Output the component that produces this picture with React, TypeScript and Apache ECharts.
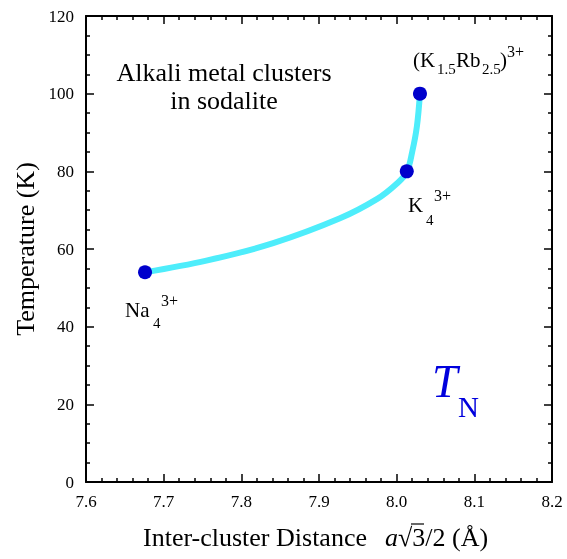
import React, { useEffect, useRef } from "react";
import * as echarts from "echarts";

// Fitted T_N curve (inter-cluster distance in Å, temperature in K)
const curveX = [7.676, 7.755, 7.841, 7.927, 7.975, 8.000, 8.013, 8.020, 8.026, 8.030];
const curveY = [54.0, 57.0, 61.5, 67.9, 72.9, 76.8, 79.8, 85.0, 91.5, 100.0];

// Measured clusters
const clusterNames = ["Na4", "K4", "K1.5Rb2.5"];
const clusterX = [7.676, 8.013, 8.03];
const clusterY = [54, 80, 100];

const xTicks = { min: 7.6, max: 8.2, interval: 0.1 };
const yTicks = { min: 0, max: 120, interval: 20 };

const F = "Liberation Serif";

function txt(text: string, x: number, y: number, size: number, opts: any = {}) {
  const style: any = { text, fill: opts.fill || "#000", fontSize: size, fontFamily: F, textVerticalAlign: "middle" };
  if (opts.italic) style.fontStyle = "italic";
  if (opts.align) style.textAlign = opts.align;
  const el: any = { type: "text", x, y, style };
  if (opts.rotation) el.rotation = opts.rotation;
  return el;
}

export default function App() {
  const ref = useRef<HTMLDivElement>(null);
  useEffect(() => {
    if (!ref.current) return;
    const chart = echarts.init(ref.current, null, { renderer: "svg" });
    const axisLine = { show: true, onZero: false, lineStyle: { color: "#000", width: 2 } };
    const axisTick = { show: true, inside: true, length: 8, lineStyle: { color: "#000", width: 1.5 } };
    const minorLine = { length: 4, lineStyle: { color: "#000", width: 1.5 } };
    const lineData = curveX.map((x, i) => [x, curveY[i]]);
    const pointData = clusterX.map((x, i) => ({ name: clusterNames[i], value: [x, clusterY[i]] }));
    chart.setOption({
      animation: false,
      grid: { left: 86, top: 16, right: 15, bottom: 77 },
      xAxis: [
        {
          type: "value",
          ...xTicks,
          position: "bottom",
          axisLine,
          axisTick,
          splitLine: { show: false },
          minorTick: { show: true, splitNumber: 5, ...minorLine },
          axisLabel: {
            color: "#000",
            fontSize: 17,
            fontFamily: F,
            margin: 11,
            formatter: (v: number) => v.toFixed(1),
          },
        },
        {
          type: "value",
          ...xTicks,
          position: "top",
          axisLine,
          axisTick,
          splitLine: { show: false },
          minorTick: { show: true, splitNumber: 5, ...minorLine },
          axisLabel: { show: false },
        },
      ],
      yAxis: [
        {
          type: "value",
          ...yTicks,
          position: "left",
          axisLine,
          axisTick,
          splitLine: { show: false },
          minorTick: { show: true, splitNumber: 4, ...minorLine },
          axisLabel: { color: "#000", fontSize: 17, fontFamily: F, margin: 12 },
        },
        {
          type: "value",
          ...yTicks,
          position: "right",
          axisLine,
          axisTick,
          splitLine: { show: false },
          minorTick: { show: true, splitNumber: 4, ...minorLine },
          axisLabel: { show: false },
        },
      ],
      series: [
        {
          type: "line",
          data: lineData,
          smooth: 0.35,
          showSymbol: false,
          symbol: "none",
          lineStyle: { color: "#4eedfb", width: 6 },
          z: 2,
        },
        {
          type: "scatter",
          data: pointData,
          symbol: "circle",
          symbolSize: 14,
          itemStyle: { color: "#0000cc", opacity: 1 },
          z: 3,
        },
      ],
      graphic: [
        txt("Alkali metal clusters", 224, 72, 26, { align: "center" }),
        txt("in sodalite", 224, 100, 26, { align: "center" }),
        txt("(K", 413, 60, 21),
        txt("1.5", 437, 69, 15),
        txt("Rb", 456, 60, 21),
        txt("2.5", 482, 69, 15),
        txt(")", 500, 60, 21),
        txt("3+", 507, 51, 16),
        txt("K", 408, 205, 21),
        txt("4", 426, 220, 15),
        txt("3+", 434, 195, 16),
        txt("Na", 125, 310, 21),
        txt("4", 153, 323, 15),
        txt("3+", 161, 300, 16),
        txt("T", 432, 381, 46, { italic: true, fill: "#0000dd" }),
        txt("N", 458, 407, 29, { fill: "#0000dd" }),
        txt("Temperature (K)", 25, 249, 26, { align: "center", rotation: Math.PI / 2 }),
        txt("Inter-cluster Distance", 143, 537, 26),
        txt("a", 385, 537, 26, { italic: true }),
        txt("√3/2 (Å)", 398, 537, 26),
        {
          type: "line",
          shape: { x1: 411, y1: 524, x2: 424, y2: 524 },
          style: { stroke: "#000", lineWidth: 1.2 },
        },
      ],
    });
    return () => chart.dispose();
  }, []);
  return <div ref={ref} style={{ position: "fixed", left: 0, top: 0, width: 567, height: 559 }} />;
}
